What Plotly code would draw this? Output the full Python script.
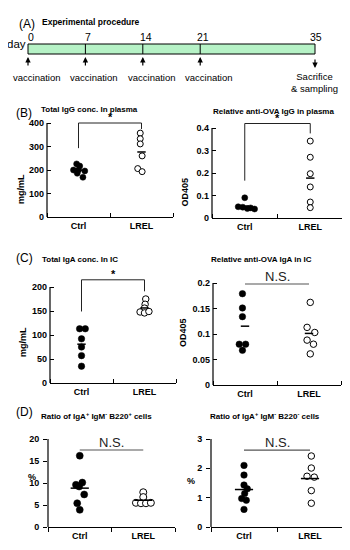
import numpy as np
import plotly.graph_objects as go

# ---------------- data ----------------
days = [0, 7, 14, 21, 35]
day_labels = ["0", "7", "14", "21", "35"]
events = ["vaccination", "vaccination", "vaccination", "vaccination", "Sacrifice<br>& sampling"]
event_dir = ["up", "up", "up", "up", "down"]

groups = ["Ctrl", "LREL"]

igg_total_ctrl = [226, 217, 200, 200, 196, 186, 169]
igg_total_lrel = [357, 333, 311, 260, 206, 193]
igg_ova_ctrl = [0.090, 0.050, 0.048, 0.042, 0.040, 0.045]
igg_ova_lrel = [0.342, 0.270, 0.197, 0.138, 0.071, 0.046]
iga_total_ctrl = [113, 113, 92, 75, 57, 35]
iga_total_lrel = [175, 164, 156, 148, 146, 149]
iga_ova_ctrl = [0.179, 0.151, 0.134, 0.080, 0.080, 0.068]
iga_ova_lrel = [0.162, 0.113, 0.103, 0.088, 0.080, 0.061]
b220pos_ctrl = [16.2, 9.6, 10.1, 9.2, 7.4, 5.4, 3.9]
b220pos_lrel = [7.9, 6.8, 5.5, 5.4, 5.4, 5.5]
b220neg_ctrl = [2.10, 1.77, 1.43, 1.30, 1.14, 0.97, 0.91, 0.60]
b220neg_lrel = [2.42, 2.01, 1.73, 1.70, 1.24, 0.81]

# The page body has an 8px margin, so the figure is drawn 8px in from the window edge.
OFF = 8
W, H = 350 - OFF, 550 - OFF
FONT = "Liberation Sans, Arial, sans-serif"


def px(x):
    """window x pixel -> paper fraction"""
    return (x - OFF) / W


def py(y):
    """window y pixel -> paper fraction"""
    return 1 - (y - OFF) / H


fig = go.Figure()
annotations = []
shapes = []

# ---------------- panel A : timeline ----------------
day_px0, day_px1 = 28, 315
span = W * (days[-1] - days[0]) / (day_px1 - day_px0)
r0 = days[0] - (day_px0 - OFF) * span / W
fig.update_layout(
    xaxis=dict(domain=[0, 1], range=[r0, r0 + span], visible=False, fixedrange=True, automargin=False),
    yaxis=dict(domain=[py(95), 1], range=[95, OFF], visible=False, fixedrange=True, automargin=False),
)
shapes.append(dict(type="rect", xref="x", yref="y", x0=days[0], x1=days[-1], y0=44, y1=54,
                   fillcolor="#b6f2c6", line=dict(color="black", width=1), layer="below"))
for d in days[1:-1]:
    shapes.append(dict(type="line", xref="x", yref="y", x0=d, x1=d, y0=44, y1=54,
                       line=dict(color="black", width=1)))
for d, lab in zip(days, day_labels):
    annotations.append(dict(x=d, y=37, xref="x", yref="y", text=lab, showarrow=False,
                            xshift=3 if d != days[-1] else 1, font=dict(size=10.5, family=FONT, color="black")))
annotations.append(dict(x=px(28), y=py(36), xref="paper", yref="paper", text="day", showarrow=False,
                        xanchor="right", font=dict(size=11.5, family=FONT, color="black")))
for d, ev, dr in zip(days, events, event_dir):
    if dr == "up":
        annotations.append(dict(x=d, y=57, xref="x", yref="y", text="", showarrow=True, ax=0, ay=10,
                                arrowhead=2, arrowsize=0.9, arrowwidth=1.2, arrowcolor="black"))
        annotations.append(dict(x=d, y=77, xref="x", yref="y", text=ev, showarrow=False, xshift=9,
                                font=dict(size=9.5, family=FONT, color="black")))
    else:
        annotations.append(dict(x=d, y=68, xref="x", yref="y", text="", showarrow=True, ax=0, ay=-10,
                                arrowhead=2, arrowsize=0.9, arrowwidth=1.2, arrowcolor="black"))
        annotations.append(dict(x=d, y=82, xref="x", yref="y", text=ev, showarrow=False, xshift=-1,
                                font=dict(size=9.5, family=FONT, color="black")))

annotations.append(dict(x=px(17), y=py(15), xref="paper", yref="paper", text="(A)", showarrow=False,
                        xanchor="left", font=dict(size=12, family=FONT, color="black")))
annotations.append(dict(x=px(40), y=py(15), xref="paper", yref="paper", text="<b>Experimental procedure</b>",
                        showarrow=False, xanchor="left", font=dict(size=8.5, family=FONT, color="black")))

# ---------------- scatter panels ----------------
panels = [
    dict(ctrl=igg_total_ctrl, lrel=igg_total_lrel,
         title="Total IgG conc. In plasma", letter="(B)", ylabel="mg/mL",
         yticks=[0, 100, 200, 300, 400], yticktext=["0", "100", "200", "300", "400"]),
    dict(ctrl=igg_ova_ctrl, lrel=igg_ova_lrel,
         title="Relative anti-OVA IgG in plasma", letter=None, ylabel="OD405",
         yticks=[0, 0.1, 0.2, 0.3, 0.4], yticktext=["0", "0.1", "0.2", "0.3", "0.4"]),
    dict(ctrl=iga_total_ctrl, lrel=iga_total_lrel,
         title="Total IgA conc. In IC", letter="(C)", ylabel="mg/mL",
         yticks=[0, 50, 100, 150, 200], yticktext=["0", "50", "100", "150", "200"]),
    dict(ctrl=iga_ova_ctrl, lrel=iga_ova_lrel,
         title="Relative anti-OVA IgA in IC", letter=None, ylabel="OD405",
         yticks=[0, 0.05, 0.1, 0.15, 0.2], yticktext=["0", "0.05", "0.1", "0.15", "0.2"]),
    dict(ctrl=b220pos_ctrl, lrel=b220pos_lrel,
         title="Ratio of IgA<sup>+</sup> IgM<sup>-</sup> B220<sup>+</sup> cells", letter="(D)", ylabel="%",
         yticks=[0, 5, 10, 15, 20], yticktext=["0", "5", "10", "15", "20"]),
    dict(ctrl=b220neg_ctrl, lrel=b220neg_lrel,
         title="Ratio of IgA<sup>+</sup> IgM<sup>-</sup> B220<sup>-</sup> cells", letter=None, ylabel="%",
         yticks=[0, 1, 2, 3], yticktext=["0", "1", "2", "3"]),
]

# layout / style specs (window-pixel geometry of each plot area, jitter, significance marks)
geo = [
    dict(x0=47, x1=173, y0=217, ytop_px=123, ymax=420, ticks="inside", msize=6, mlen=6,
         jc=[-0.03, 0.02, -0.08, 0.0, 0.1, -0.02, 0.07], jl=[-0.02, -0.02, -0.02, 0.01, -0.06, 0.01],
         title_x=40, title_anchor="left", title_y=104, letter_x=14, letter_y=104,
         ylab_x=15, ylab_y=173, ylab_rot=True,
         sig=dict(kind="*", left=293, top=400, right=374)),
    dict(x0=212, x1=343, y0=218, ytop_px=128, ymax=0.43, ticks="inside", msize=6, mlen=6,
         jc=[0.0, -0.1, -0.03, 0.04, 0.15, 0.09], jl=[0, 0, 0, 0, 0, 0],
         title_x=273, title_anchor="center", title_y=106, letter_x=None, letter_y=None,
         ylab_x=184, ylab_y=177, ylab_rot=True,
         sig=dict(kind="*", left=0.166, top=0.42, right=0.376)),
    dict(x0=50, x1=176, y0=383, ytop_px=287, ymax=222, ticks="inside", msize=6.5, mlen=6,
         jc=[-0.03, 0.06, 0.0, 0.0, 0.0, 0.0], jl=[0.02, 0.01, 0.0, -0.07, 0.0, 0.07],
         title_x=41, title_anchor="left", title_y=259, letter_x=14, letter_y=258,
         ylab_x=17, ylab_y=342, ylab_rot=True,
         sig=dict(kind="*", left=149, top=215, right=191)),
    dict(x0=213, x1=341, y0=385, ytop_px=283, ymax=0.21, ticks="inside", msize=6.5, mlen=6,
         jc=[-0.04, -0.04, -0.04, -0.09, 0.01, -0.04], jl=[0.02, -0.03, 0.09, -0.03, 0.07, 0.02],
         title_x=261, title_anchor="center", title_y=259, letter_x=None, letter_y=None,
         ylab_x=183, ylab_y=333, ylab_rot=True,
         sig=dict(kind="N.S.", top=0.198)),
    dict(x0=48, x1=175, y0=527, ytop_px=439, ymax=20.5, ticks="outside", msize=7, mlen=13,
         jc=[0.0, -0.06, 0.04, -0.01, 0.07, -0.04, 0.0], jl=[0.0, 0.0, -0.115, -0.036, 0.043, 0.12],
         title_x=40, title_anchor="left", title_y=422, letter_x=14, letter_y=421,
         ylab_x=27, ylab_y=483, ylab_rot=False,
         sig=dict(kind="N.S.", top=17.5)),
    dict(x0=211, x1=343, y0=527, ytop_px=439, ymax=3.08, ticks="outside", msize=6.5, mlen=13,
         jc=[0.0, 0.0, 0.0, 0.05, 0.01, -0.035, 0.035, 0.0], jl=[0.02, 0.02, -0.045, 0.065, 0.02, 0.02],
         title_x=265, title_anchor="center", title_y=422, letter_x=None, letter_y=None,
         ylab_x=191, ylab_y=487, ylab_rot=False,
         sig=dict(kind="N.S.", top=2.62)),
]

pos = [0.5, 1.5]

for i, (p, g) in enumerate(zip(panels, geo)):
    n = i + 2
    xa, ya = f"x{n}", f"y{n}"
    top_val = p["yticks"][-1]
    pxu = (g["y0"] - g["ytop_px"]) / top_val  # pixels per unit
    ytop_dom = g["y0"] - g["ymax"] * pxu
    tickfont = dict(size=9, family=FONT, color="black", weight="bold")
    fig.update_layout(**{
        f"xaxis{n}": dict(domain=[px(g["x0"]), px(g["x1"])], range=[0, 2], anchor=ya, automargin=False,
                          showline=True, linecolor="black", linewidth=1.2, showgrid=False, zeroline=False,
                          tickmode="array", tickvals=pos, ticktext=groups, ticks="",
                          tickfont=tickfont, ticklabelstandoff=0,
                          minor=dict(tickmode="array", tickvals=[0, 1, 2], ticks=g["ticks"], ticklen=4,
                                     tickcolor="black", tickwidth=1.2, showgrid=False),
                          fixedrange=True),
        f"yaxis{n}": dict(domain=[py(g["y0"]), py(ytop_dom)], range=[0, g["ymax"]], anchor=xa, automargin=False,
                          showline=False, showgrid=False, zeroline=False,
                          tickmode="array", tickvals=p["yticks"], ticktext=p["yticktext"],
                          ticks=g["ticks"], ticklen=4, tickcolor="black", tickwidth=1.2,
                          tickfont=tickfont, ticklabelstandoff=2, fixedrange=True),
    })
    # y axis line only up to the top tick
    shapes.append(dict(type="line", xref="paper", yref=ya, x0=px(g["x0"]), x1=px(g["x0"]),
                       y0=0, y1=top_val, line=dict(color="black", width=1.2)))

    xc = [pos[0] + j for j in g["jc"]]
    xl = [pos[1] + j for j in g["jl"]]
    fig.add_trace(go.Scatter(x=xc, y=p["ctrl"], xaxis=xa, yaxis=ya, mode="markers", cliponaxis=False,
                             marker=dict(symbol="circle", size=g["msize"], color="black",
                                         line=dict(color="black", width=0.5)),
                             showlegend=False, hoverinfo="skip"))
    fig.add_trace(go.Scatter(x=xl, y=p["lrel"], xaxis=xa, yaxis=ya, mode="markers", cliponaxis=False,
                             marker=dict(symbol="circle", size=g["msize"], color="white",
                                         line=dict(color="black", width=1)),
                             showlegend=False, hoverinfo="skip"))
    fig.add_trace(go.Scatter(x=[pos[0], pos[1]], y=[float(np.mean(p["ctrl"])), float(np.mean(p["lrel"]))],
                             xaxis=xa, yaxis=ya, mode="markers", cliponaxis=False,
                             marker=dict(symbol="line-ew", size=g["mlen"],
                                         line=dict(color="black", width=1.5)),
                             showlegend=False, hoverinfo="skip"))

    s = g["sig"]
    if s["kind"] == "*":
        shapes.append(dict(type="path", xref=xa, yref=ya,
                           path=f"M {pos[0]},{s['left']} L {pos[0]},{s['top']} L {pos[1]},{s['top']} L {pos[1]},{s['right']}",
                           line=dict(color="#222222", width=1)))
        annotations.append(dict(x=1, y=s["top"], xref=xa, yref=ya, text="<b>*</b>", showarrow=False,
                                yanchor="bottom", yshift=-1, borderpad=0,
                                font=dict(size=11, family=FONT, color="black")))
    else:
        shapes.append(dict(type="line", xref=xa, yref=ya, x0=pos[0], x1=pos[1], y0=s["top"], y1=s["top"],
                           line=dict(color="#555555", width=1.2)))
        annotations.append(dict(x=1, y=s["top"], xref=xa, yref=ya, text="N.S.", showarrow=False,
                                yanchor="bottom", yshift=-2, font=dict(size=13, family=FONT, color="#222222")))

    annotations.append(dict(x=px(g["title_x"]), y=py(g["title_y"]), xref="paper", yref="paper",
                            text=f"<b>{p['title']}</b>", showarrow=False, xanchor=g["title_anchor"],
                            borderpad=0, font=dict(size=8, family=FONT, color="black")))
    if p["letter"]:
        annotations.append(dict(x=px(g["letter_x"]), y=py(g["letter_y"]), xref="paper", yref="paper",
                                text=p["letter"], showarrow=False, xanchor="left",
                                font=dict(size=12, family=FONT, color="black")))
    annotations.append(dict(x=px(g["ylab_x"]), y=py(g["ylab_y"]), xref="paper", yref="paper",
                            text=f"<b>{p['ylabel']}</b>", showarrow=False, borderpad=0,
                            textangle=-90 if g["ylab_rot"] else 0,
                            font=dict(size=9, family=FONT, color="black")))

fig.update_layout(
    template="none",
    width=W, height=H, margin=dict(l=0, r=0, t=0, b=0, autoexpand=False),
    paper_bgcolor="white", plot_bgcolor="white",
    font=dict(family=FONT, color="black"),
    annotations=annotations, shapes=shapes, showlegend=False,
)

fig.write_html("out.html", config={"displayModeBar": False})
